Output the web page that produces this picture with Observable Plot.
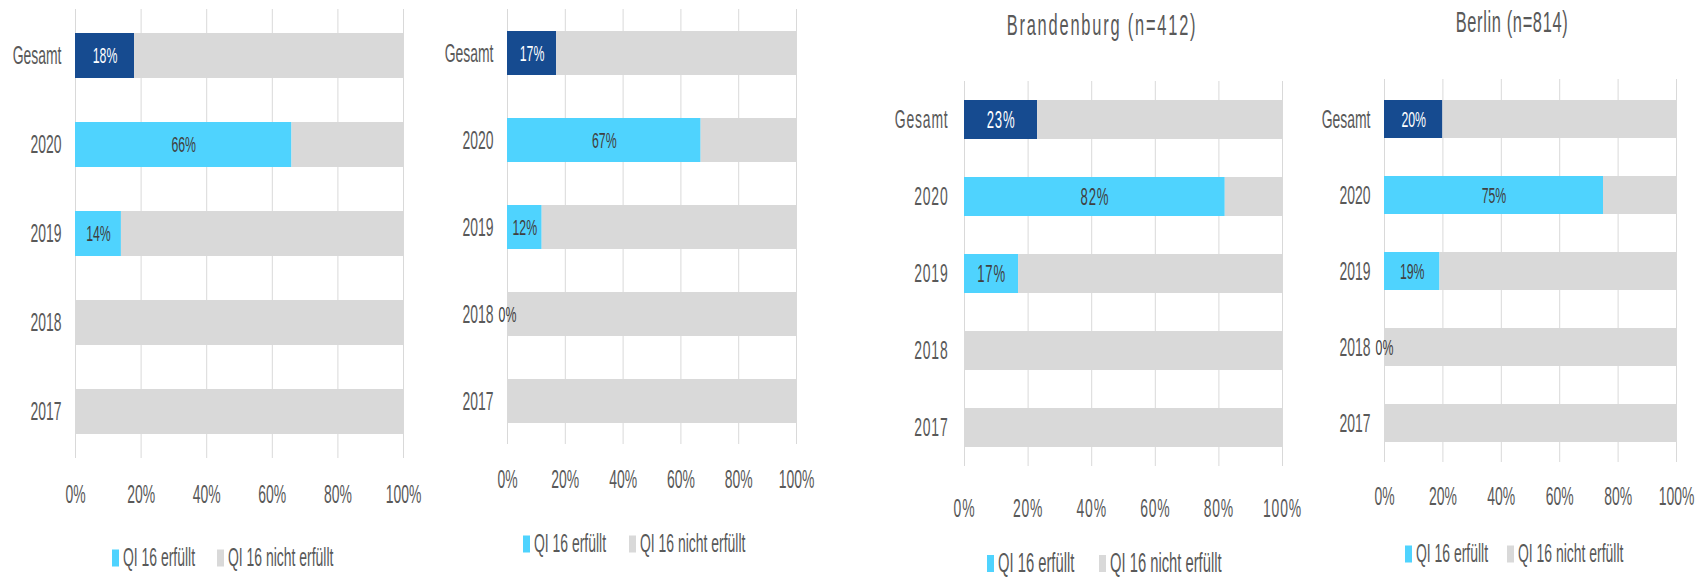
<!DOCTYPE html>
<html><head><meta charset="utf-8">
<script src="https://cdn.jsdelivr.net/npm/d3@7"></script>
<script src="https://cdn.jsdelivr.net/npm/@observablehq/plot@0.6"></script>
<style>
html,body{margin:0;padding:0;background:#fff;}
#chart{position:relative;width:1703px;height:577px;overflow:hidden;font-family:"Liberation Sans",Arial,sans-serif;color:#595959;}
#chart svg{position:absolute;top:0;overflow:visible;}
.title{position:absolute;white-space:nowrap;font-size:20px;line-height:1;transform:translate(-50%,-50%) scale(0.82,1.45);}
.leg{position:absolute;display:flex;align-items:center;white-space:nowrap;transform:translateY(-50%);}
.sw{display:inline-block;width:7px;height:17px;margin-right:4px;flex:none;}
.lt{display:inline-block;line-height:1;transform-origin:left center;transform:scale(0.82,1.5);}
</style></head><body><div id="chart"></div>
<script>
// ---- data ----
const categories = ["Gesamt", "2020", "2019", "2018", "2017"];
const panelTitles = [null, null, "Brandenburg (n=412)", "Berlin (n=814)"];
// share "QI 16 erfüllt" in % (null = 0 %, no data label shown)
const erfuelltPanel1 = [18, 66, 14, null, null];
const erfuelltPanel2 = [17, 67, 12, 0, null];
const erfuelltBrandenburg = [23, 82, 17, null, null];
const erfuelltBerlin = [20, 75, 19, 0, null];
const xTicks = [0, 20, 40, 60, 80, 100];
const series = ["QI 16 erfüllt", "QI 16 nicht erfüllt"];

// ---- styling / layout ----
const colGesamt = "#164B90", colJahr = "#4FD3FE", colNicht = "#D9D9D9", colGrid = "#D9D9D9";
const panelValues = [erfuelltPanel1, erfuelltPanel2, erfuelltBrandenburg, erfuelltBerlin];
const layout = [
  {left: 0,    width: 430, ml: 75,  mr: 27, mt: 9,  mb: 119, yPad: 14, xPad: 26, fs: 17, ls: 0, lfs: 15, legY: 558, legX: [112, 217], legFs: 17},
  {left: 430,  width: 420, ml: 77,  mr: 54, mt: 9,  mb: 133, yPad: 14, xPad: 25, fs: 17, ls: 0, lfs: 15, legY: 544, legX: [523, 629], legFs: 17},
  {left: 860,  width: 440, ml: 104, mr: 18, mt: 81, mb: 111, yPad: 16, xPad: 32, fs: 17, ls: 1, lfs: 16, legY: 563, legX: [987, 1099], legFs: 18, title: {x: 1102, y: 25, ls: 2.2}},
  {left: 1300, width: 403, ml: 84,  mr: 27, mt: 79, mb: 115, yPad: 14, xPad: 24, fs: 17, ls: 0, lfs: 15, legY: 554, legX: [1405, 1507], legFs: 17, title: {x: 1512, y: 22, ls: 0.8}}
];
const SX = 0.82, SY = 1.5;
const chart = document.getElementById("chart");

function stretchText(svg) {
  svg.querySelectorAll("text").forEach(t => {
    const tr = t.getAttribute("transform");
    if (tr) t.setAttribute("transform", tr + ` scale(${SX},${SY})`);
    else { t.style.transformBox = "fill-box"; t.style.transformOrigin = "center"; t.style.transform = `scale(${SX},${SY})`; }
  });
}

panelValues.forEach((vals, p) => {
  const L = layout[p];
  const rows = categories.map((cat, i) => ({cat, v: vals[i] ?? 0, label: vals[i], kind: cat === "Gesamt" ? "gesamt" : "jahr"}));
  const svg = Plot.plot({
    width: L.width, height: 577,
    marginLeft: L.ml, marginRight: L.mr, marginTop: L.mt, marginBottom: L.mb,
    style: {background: "transparent", fontFamily: '"Liberation Sans",Arial,sans-serif', fontSize: L.fs + "px", color: "#595959", letterSpacing: L.ls + "px"},
    x: {domain: [0, 100], label: null},
    y: {domain: categories, paddingInner: 0.5, paddingOuter: 0.25, label: null},
    color: {domain: ["gesamt", "jahr", "nicht"], range: [colGesamt, colJahr, colNicht]},
    marks: [
      Plot.ruleX(xTicks, {stroke: colGrid, strokeWidth: 1}),
      Plot.barX(rows, {y: "cat", x1: 0, x2: "v", fill: "kind"}),
      Plot.barX(rows, {y: "cat", x1: "v", x2: 100, fill: colNicht}),
      Plot.text(rows, {filter: d => d.label != null && d.cat === "Gesamt", x: d => d.v / 2, y: "cat", text: d => d.v + "%", fill: "white", fontSize: L.lfs}),
      Plot.text(rows, {filter: d => d.label != null && d.cat !== "Gesamt", x: d => d.v / 2, y: "cat", text: d => d.v + "%", fill: "#404040", fontSize: L.lfs}),
      Plot.axisX({ticks: xTicks, tickFormat: d => d + "%", tickSize: 0, tickPadding: L.xPad, fill: "#595959", label: null}),
      Plot.axisY({tickSize: 0, tickPadding: L.yPad, fill: "#595959", fontSize: L.fs, label: null})
    ]
  });
  svg.style.left = L.left + "px";
  stretchText(svg);
  chart.appendChild(svg);

  if (panelTitles[p]) {
    const t = document.createElement("div");
    t.className = "title";
    t.textContent = panelTitles[p];
    t.style.left = L.title.x + "px";
    t.style.top = L.title.y + "px";
    t.style.letterSpacing = L.title.ls + "px";
    chart.appendChild(t);
  }

  const legColors = [colJahr, colNicht];
  series.forEach((s, k) => {
    const g = document.createElement("div");
    g.className = "leg";
    g.style.left = L.legX[k] + "px";
    g.style.top = L.legY + "px";
    const sw = document.createElement("span");
    sw.className = "sw"; sw.style.background = legColors[k];
    const tx = document.createElement("span");
    tx.className = "lt"; tx.textContent = s; tx.style.fontSize = L.legFs + "px";
    g.appendChild(sw); g.appendChild(tx);
    chart.appendChild(g);
  });
});
</script></body></html>
